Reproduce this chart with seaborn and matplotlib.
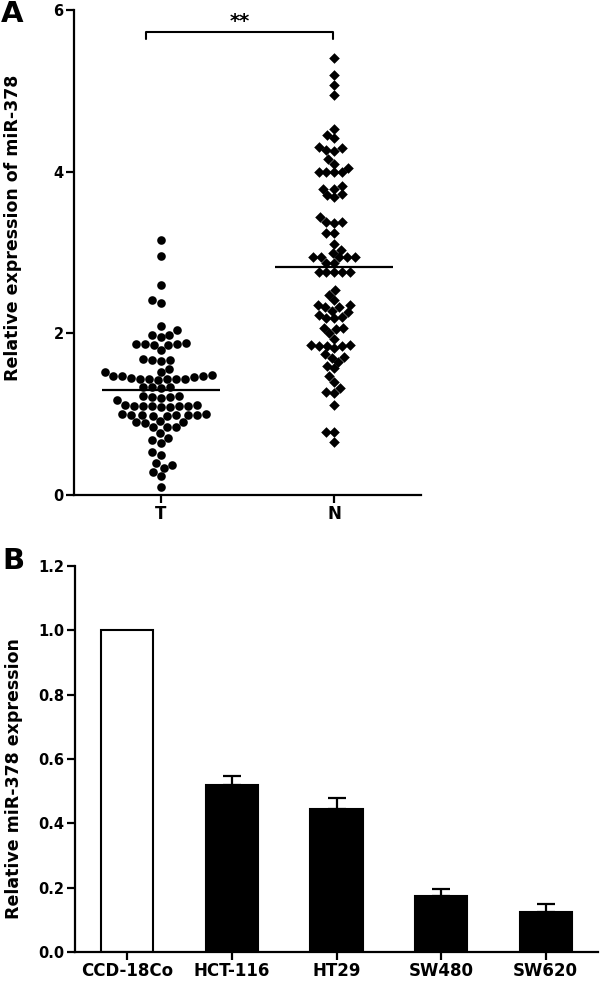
import numpy as np
import pandas as pd
import matplotlib
matplotlib.use("Agg")
import matplotlib.pyplot as plt
import seaborn as sns

# ---------------- data ----------------
groups = ["T", "N"]
t_values = [3.15, 2.96, 2.60, 2.41, 2.37, 2.09, 2.04, 1.98, 1.98, 1.95,
            1.87, 1.87, 1.86, 1.88, 1.87, 1.86, 1.79, 1.67, 1.68, 1.66, 1.67,
            1.56, 1.52, 1.52, 1.48, 1.44, 1.42, 1.47, 1.43, 1.46, 1.44, 1.47,
            1.43, 1.44, 1.47, 1.45, 1.33, 1.34, 1.32, 1.33, 1.23, 1.23,
            1.21, 1.21, 1.20, 1.17, 1.10, 1.10, 1.11, 1.09, 1.10, 1.10, 1.11,
            1.09, 1.10, 0.99, 0.99, 1.00, 0.98, 0.99, 0.99, 1.00, 0.98, 0.99,
            0.90, 0.90, 0.91, 0.89, 0.84, 0.84, 0.84, 0.77, 0.71, 0.68, 0.64,
            0.53, 0.49, 0.39, 0.37, 0.33, 0.29, 0.23, 0.10]
n_values = [5.41, 5.19, 5.07, 4.95, 4.53, 4.45, 4.42, 4.29, 4.26, 4.31, 4.27,
            4.16, 4.10, 4.05, 3.99, 3.99, 3.99, 3.99, 3.82, 3.79, 3.79,
            3.71, 3.69, 3.72, 3.44, 3.38, 3.37, 3.38, 3.24, 3.24, 3.10, 3.03,
            3.00, 2.94, 2.94, 2.94, 2.94, 2.94, 2.87, 2.87, 2.76, 2.76, 2.76,
            2.76, 2.76, 2.54, 2.48, 2.41, 2.35, 2.35, 2.32, 2.32, 2.28, 2.26,
            2.23, 2.19, 2.19, 2.20, 2.07, 2.07, 2.05, 2.00, 1.93, 1.86, 1.86,
            1.84, 1.84, 1.84, 1.82, 1.75, 1.71, 1.70, 1.65, 1.60, 1.57, 1.47,
            1.40, 1.32, 1.27, 1.26, 1.11, 0.78, 0.78, 0.66]
a_yticks = [0, 2, 4, 6]
sig_label = "**"

cells = ["CCD-18Co", "HCT-116", "HT29", "SW480", "SW620"]
cell_expr = [1.0, 0.518, 0.445, 0.175, 0.123]
cell_err = [0.0, 0.030, 0.035, 0.020, 0.025]
bar_colors = ["white", "black", "black", "black", "black"]
b_yticks = [0.0, 0.2, 0.4, 0.6, 0.8, 1.0, 1.2]

# ---------------- style ----------------
sns.set_style("ticks")
plt.rcParams["font.family"] = ["DejaVu Sans"]
plt.rcParams["font.weight"] = "bold"
plt.rcParams["axes.labelweight"] = "bold"
for key in ("text.color", "axes.labelcolor", "xtick.color", "ytick.color",
            "axes.edgecolor"):
    plt.rcParams[key] = "black"

fig = plt.figure(figsize=(6, 9.81), dpi=100)
W, H = 600, 981
axA = fig.add_axes([74 / W, 1 - 495 / H, (421 - 74) / W, (495 - 10) / H])
axB = fig.add_axes([75 / W, 1 - 952 / H, (598 - 75) / W, (952 - 566) / H])

# ---------------- panel A ----------------
dfT = pd.DataFrame({"group": "T", "value": t_values})
dfN = pd.DataFrame({"group": "N", "value": n_values})
sns.swarmplot(data=dfT, x="group", y="value", order=groups, ax=axA,
              color="black", marker="o", size=6.2, linewidth=0)
sns.swarmplot(data=dfN, x="group", y="value", order=groups, ax=axA,
              color="black", marker="D", size=5.4, linewidth=0)
for i, vals in enumerate([t_values, n_values]):
    m = np.mean(vals)
    axA.plot([i - 0.34, i + 0.34], [m, m], color="black", lw=1.6, zorder=5,
             solid_capstyle="butt")

axA.set_xlim(-0.5, 1.5)
axA.set_ylim(0, 6)
axA.set_yticks(a_yticks)
axA.set_xlabel("")
axA.set_ylabel("Relative expression of miR-378", fontsize=12.5,
               fontweight="bold", color="black")
axA.yaxis.set_label_coords(-0.15, 0.55)

# significance bracket
by, bt = 5.73, 5.64
axA.plot([-0.085, -0.085, 0.99, 0.99], [bt, by, by, bt], color="black",
         lw=1.5, clip_on=False)
axA.text(0.455, 5.86, sig_label, ha="center", va="center", fontsize=14,
         fontweight="bold", color="black")

# ---------------- panel B ----------------
dfB = pd.DataFrame({"cell": cells, "expr": cell_expr})
sns.barplot(data=dfB, x="cell", y="expr", hue="cell", palette=bar_colors,
            order=cells, hue_order=cells, legend=False, width=0.5,
            edgecolor="black", linewidth=1.5, ax=axB)
xpos = np.arange(len(cells))[1:]
axB.errorbar(xpos, cell_expr[1:], yerr=[np.zeros(len(xpos)), cell_err[1:]],
             fmt="none", ecolor="black", elinewidth=1.6, capsize=6.5,
             capthick=1.6, zorder=4)
axB.set_xlim(-0.5, 4.5)
axB.set_ylim(0, 1.2)
axB.set_yticks(b_yticks)
axB.set_yticklabels([f"{v:.1f}" for v in b_yticks])
axB.set_xlabel("")
axB.set_ylabel("Relative miR-378 expression", fontsize=12.5,
               fontweight="bold", color="black")
axB.yaxis.set_label_coords(-0.10, 0.45)

for ax in (axA, axB):
    sns.despine(ax=ax)
    for s in ("left", "bottom"):
        ax.spines[s].set_linewidth(1.6)
        ax.spines[s].set_color("black")
    ax.tick_params(axis="both", width=1.6, length=5.5, color="black",
                   labelcolor="black", direction="out", pad=2)
    ax.tick_params(axis="y", labelsize=10.5)
    ax.tick_params(axis="x", labelsize=12)
    for lab in ax.get_xticklabels() + ax.get_yticklabels():
        lab.set_fontweight("bold")
        lab.set_color("black")

fig.text(12 / W, 1 - 14 / H, "A", fontsize=21, fontweight="bold",
         ha="center", va="center", color="black")
fig.text(13 / W, 1 - 561 / H, "B", fontsize=21, fontweight="bold",
         ha="center", va="center", color="black")

fig.savefig("out.png", dpi=100)
